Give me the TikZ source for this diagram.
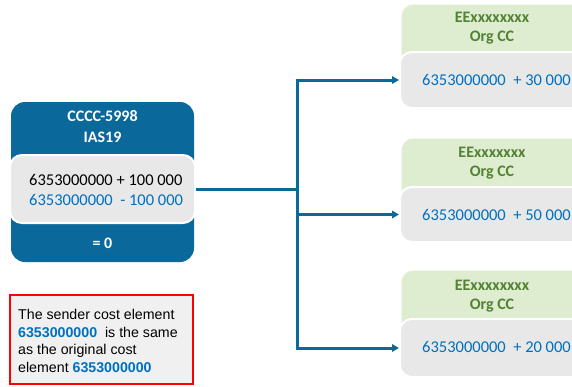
\documentclass[tikz,border=0pt]{standalone}
\usepackage{fontspec}
\setmainfont{Carlito}
\newfontfamily\arialf{Liberation Sans}
\usetikzlibrary{arrows.meta}
\definecolor{boxblue}{RGB}{10,104,155}
\definecolor{txtblue}{RGB}{0,112,192}
\definecolor{innergrey}{RGB}{232,232,232}
\definecolor{lgreen}{RGB}{222,236,208}
\definecolor{dgreen}{RGB}{84,130,53}
\definecolor{notegrey}{RGB}{240,240,240}
\tikzset{
  bluebox/.style={rectangle, rounded corners=14pt, fill=boxblue, draw=none, inner sep=0pt},
  greybox/.style={rectangle, rounded corners=12pt, fill=innergrey, draw=white, line width=2pt, inner sep=0pt},
  greenbox/.style={rectangle, rounded corners=12pt, fill=lgreen, draw=white, line width=1pt, inner sep=0pt},
  bigtxt/.style={font=\fontsize{16.5}{20}\selectfont, inner sep=0pt},
  wtitle/.style={bigtxt, font=\fontsize{16}{21}\selectfont\bfseries, text=white, align=center},
  gtitle/.style={bigtxt, font=\fontsize{16}{19}\selectfont\bfseries, text=dgreen, align=center},
  numtxt/.style={bigtxt, text=txtblue, anchor=west},
  conn/.style={draw=boxblue, line width=3pt},
  arr/.style={conn, -{Triangle[length=7pt,width=7.5pt]}},
  notebox/.style={rectangle, draw=red, fill=notegrey, line width=1.5pt, inner sep=0pt}
}
\begin{document}
\begin{tikzpicture}[x=1pt,y=-1pt]
\useasboundingbox (0,0) rectangle (572,386);
\clip (0,0) rectangle (572,386);
% source box
\node[bluebox, minimum width=183pt, minimum height=160pt] (src) at (102.5,182) {};
\node[wtitle] (srct) at (102.5,126.5) {CCCC-5998\\IAS19};
\node[greybox, minimum width=185pt, minimum height=68pt] (srcin) at (102.5,189) {};
\node[bigtxt, align=left, anchor=west] (srcnum) at (29,189.5) {6353000000 + 100 000\\\textcolor{txtblue}{6353000000~ - 100 000}};
\node[bigtxt, font=\fontsize{16}{20}\selectfont\bfseries, text=white] (srceq) at (102.5,243) {= 0};
% target boxes
\node[greenbox, minimum width=200pt, minimum height=104pt] (t1) at (501,56) {};
\node[gtitle] (t1t) at (492,28) {EExxxxxxxx\\Org CC};
\node[greybox, minimum width=200pt, minimum height=56pt] (g1) at (500,80) {};
\node[numtxt] (n1) at (422,80) {6353000000~ + 30 000};

\node[greenbox, minimum width=200pt, minimum height=104pt] (t2) at (501,190) {};
\node[gtitle] (t2t) at (492,163.5) {EExxxxxxx\\Org CC};
\node[greybox, minimum width=200pt, minimum height=55pt] (g2) at (500,214.5) {};
\node[numtxt] (n2) at (422,215) {6353000000~ + 50 000};

\node[greenbox, minimum width=200pt, minimum height=107pt] (t3) at (501,323.5) {};
\node[gtitle] (t3t) at (492,296) {EExxxxxxxx\\Org CC};
\node[greybox, minimum width=200pt, minimum height=58pt] (g3) at (500,348) {};
\node[numtxt] (n3) at (422,347) {6353000000~ + 20 000};
% connectors
\coordinate (j) at (297,189);
\draw[conn] (srcin.east) -- (j);
\draw[arr] (j) |- (g1.west);
\draw[arr] (j) |- (g2.west);
\draw[arr] (j) |- (g3.west);
% note
\node[notebox, minimum width=183pt, minimum height=89pt] (note) at (101.5,339.5) {};
\node[anchor=west, align=left, inner sep=0pt, font=\arialf\fontsize{14.2}{17.4}\selectfont] (notet) at (18,341)
{The sender cost element\\\textcolor{txtblue}{\bfseries 6353000000}\ \ is the same\\as the original cost\\element \textcolor{txtblue}{\bfseries 6353000000}};
\end{tikzpicture}
\end{document}
